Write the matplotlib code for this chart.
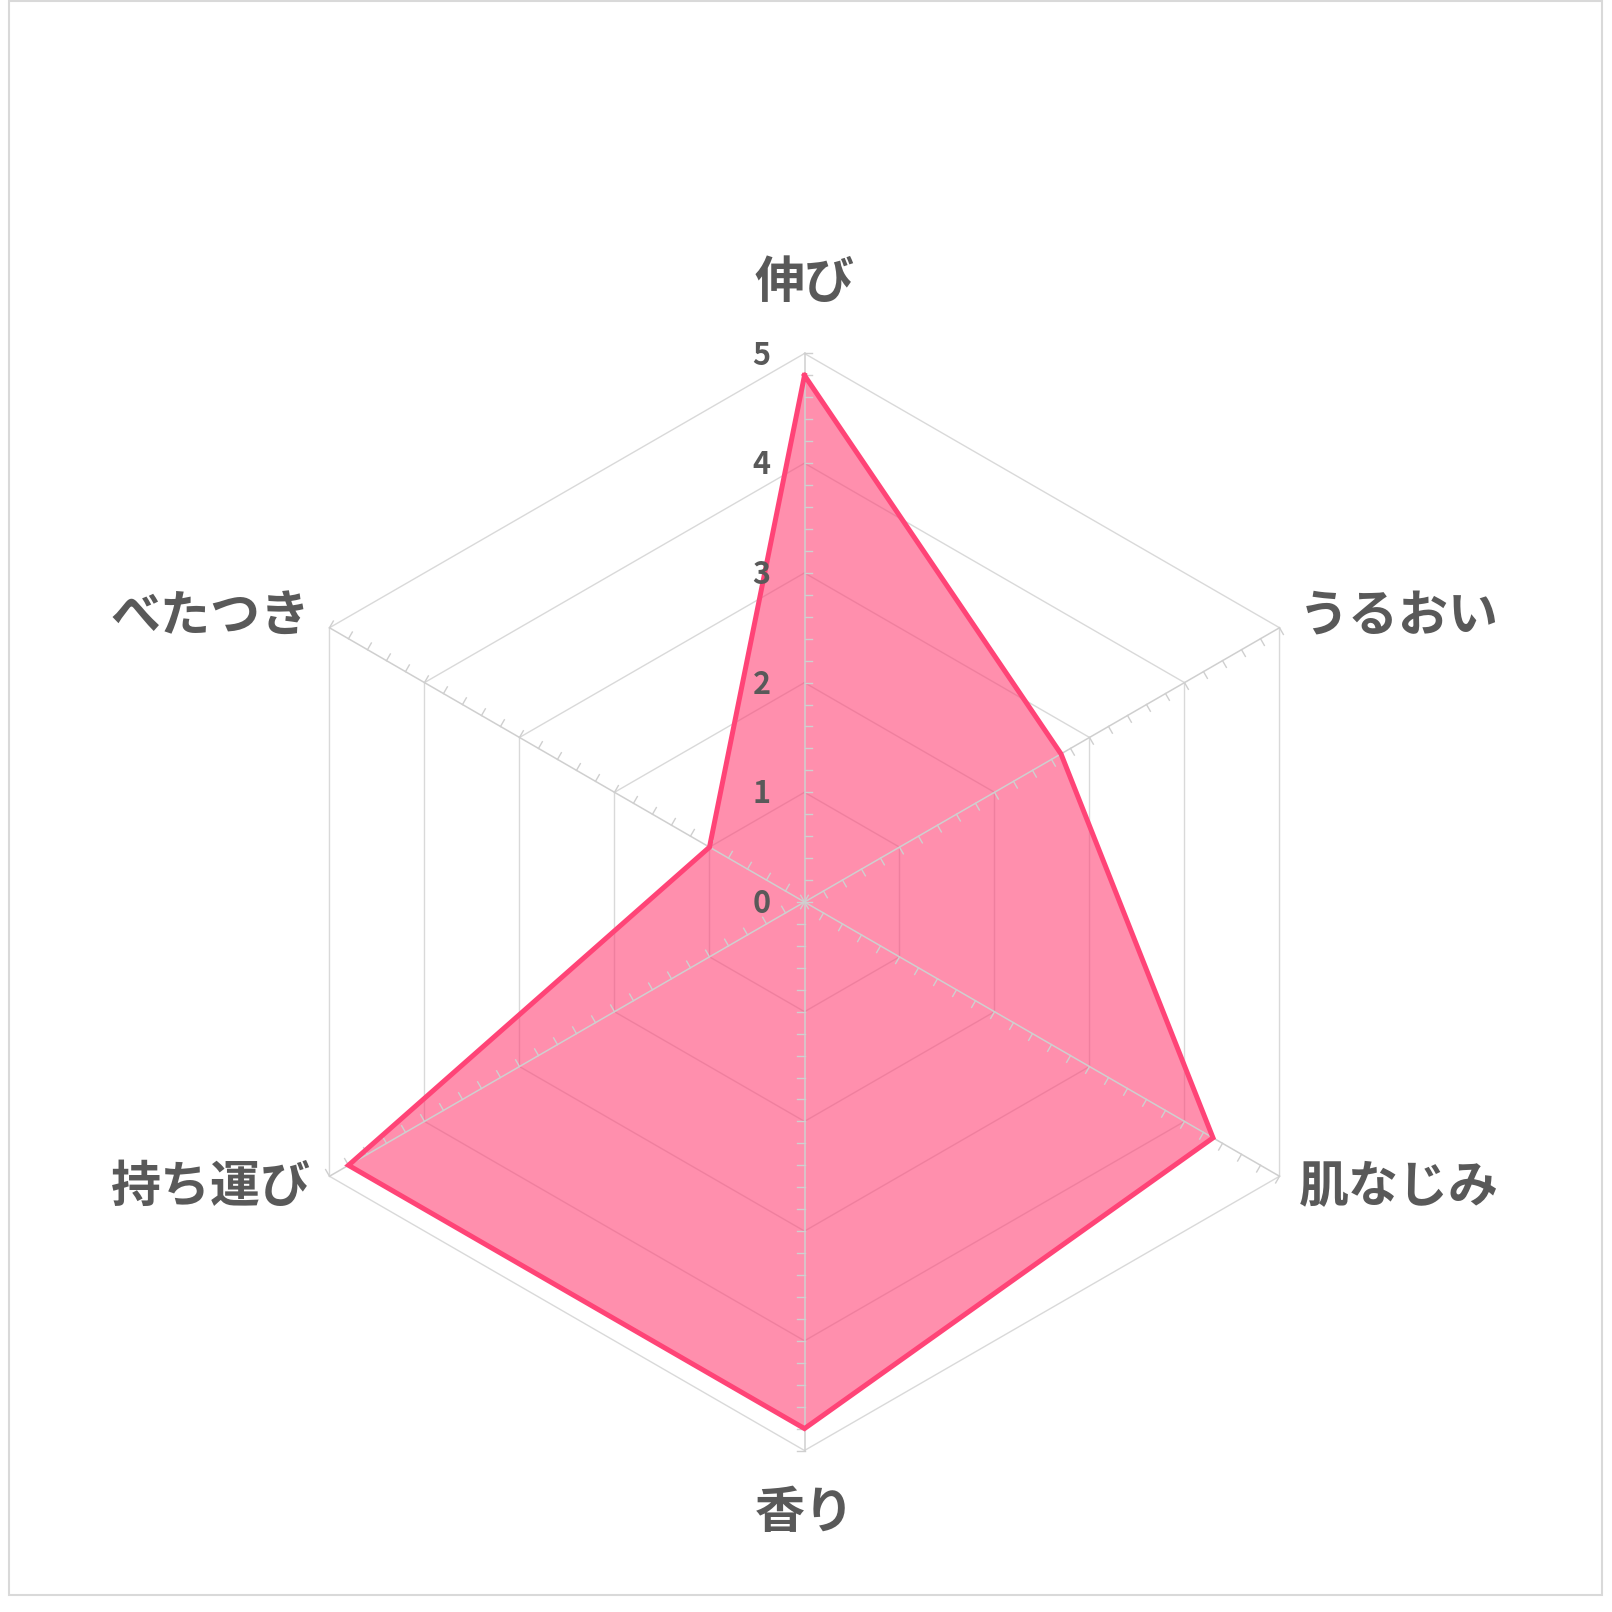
import numpy as np
import matplotlib
matplotlib.use("Agg")
import matplotlib.pyplot as plt
from matplotlib.patches import Rectangle

plt.rcParams['font.family'] = ['Noto Sans CJK JP', 'DejaVu Sans']

categories = ["伸び", "うるおい", "肌なじみ", "香り", "持ち運び", "べたつき"]
values = [4.8, 2.7, 4.3, 4.8, 4.8, 1.0]
tick_labels = ["0", "1", "2", "3", "4", "5"]
r_max = 5

W = H = 1612
dpi = 100
fig = plt.figure(figsize=(W / dpi, H / dpi), dpi=dpi)
ax = fig.add_axes([0, 0, 1, 1])
unit = 109.7
cx, cy = 804.5, 902.0
ax.set_xlim(-cx / unit, (W - cx) / unit)
ax.set_ylim(-(H - cy) / unit, cy / unit)
ax.set_aspect('equal')
ax.axis('off')

n = len(categories)
theta = np.arange(n) * 2 * np.pi / n
dx, dy = np.sin(theta), np.cos(theta)

grid_c = '#D9D9D9'
axis_c = '#CFCFCF'
text_c = '#595959'

# hexagonal grid
for r in range(1, r_max + 1):
    xs = np.append(r * dx, r * dx[0])
    ys = np.append(r * dy, r * dy[0])
    ax.plot(xs, ys, color=grid_c, lw=1.0, zorder=1)

# fill
vx = np.append(np.array(values) * dx, values[0] * dx[0])
vy = np.append(np.array(values) * dy, values[0] * dy[0])
ax.fill(vx, vy, color='#FF4477', alpha=0.6, lw=0, zorder=2)

# spokes + ticks
tick_len = 7.7 / unit
minor = np.arange(0, r_max + 0.001, 0.2)
for i in range(n):
    ax.plot([0, r_max * dx[i]], [0, r_max * dy[i]], color=axis_c, lw=1.1, zorder=3)
    px, py = dy[i], -dx[i]  # clockwise perpendicular
    for t in minor:
        bx, by = t * dx[i], t * dy[i]
        ax.plot([bx, bx + tick_len * px], [by, by + tick_len * py],
                color=axis_c, lw=1.0, zorder=3)

# data line
ax.plot(vx, vy, color='#FF4477', lw=3.6, zorder=4, solid_joinstyle='miter')

# radial tick labels
for k, lab in enumerate(tick_labels):
    ax.text(-34 / unit, k - 0.02, lab, ha='right', va='center', fontsize=22,
            fontweight='bold', color=text_c, zorder=5)

# category labels
label_r = [5.64, 5.2, 5.2, 5.57, 5.2, 5.2]
for i, cat in enumerate(categories):
    x, y = label_r[i] * dx[i], label_r[i] * dy[i]
    if abs(dx[i]) < 1e-6:
        ha = 'center'
    elif dx[i] > 0:
        ha = 'left'
    else:
        ha = 'right'
    ax.text(x, y, cat, ha=ha, va='center', fontsize=36, fontweight='bold',
            color=text_c, zorder=5)

# outer frame
fig.patches.append(Rectangle((8.5 / W, 1 - 1595 / H), (1601.5 - 8.5) / W, (1595 - 1) / H,
                             transform=fig.transFigure, fill=False,
                             edgecolor='#D9D9D9', lw=1.5))

fig.savefig('out.png', dpi=dpi, facecolor='white')
